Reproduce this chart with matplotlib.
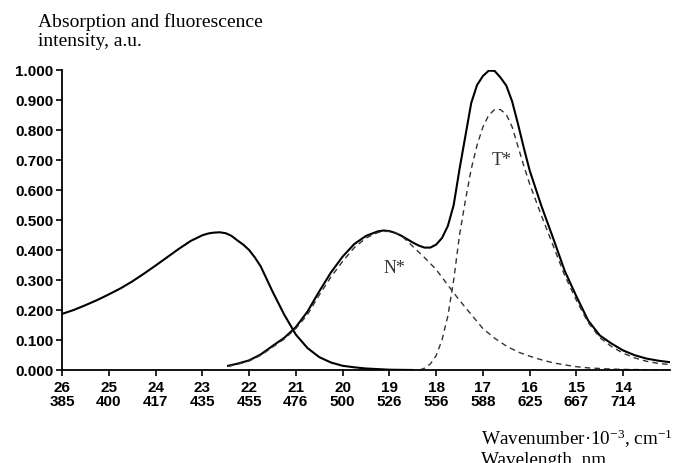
import matplotlib
matplotlib.use("Agg")
import matplotlib.pyplot as plt

plt.rcParams["mathtext.fontset"] = "custom"
plt.rcParams["mathtext.rm"] = "Liberation Serif"
plt.rcParams["mathtext.it"] = "Liberation Serif:italic"
plt.rcParams["mathtext.bf"] = "Liberation Serif:bold"

# ---- data ----
abs_x = [26.0, 25.75, 25.5, 25.25, 25.0, 24.75, 24.5, 24.25, 24.0, 23.75, 23.5, 23.25,
         23.0, 22.875, 22.75, 22.625, 22.5, 22.375, 22.25, 22.125, 22.0, 21.875, 21.75,
         21.5, 21.25, 21.0, 20.75, 20.5, 20.25, 20.0, 19.75, 19.5, 19.25, 19.0, 18.5]
abs_y = [0.187, 0.200, 0.216, 0.233, 0.252, 0.272, 0.295, 0.321, 0.348, 0.376, 0.404, 0.430,
         0.449, 0.455, 0.458, 0.459, 0.456, 0.447, 0.432, 0.418, 0.400, 0.375, 0.345,
         0.262, 0.185, 0.118, 0.073, 0.043, 0.025, 0.014, 0.009, 0.005, 0.003, 0.001, 0.0]

fl_x = [22.45, 22.25, 22.0, 21.75, 21.5, 21.25, 21.0, 20.75, 20.5, 20.25, 20.0, 19.75,
        19.5, 19.25, 19.125, 19.0, 18.875, 18.75, 18.5, 18.375, 18.25, 18.125, 18.0, 17.875,
        17.75, 17.625, 17.5, 17.375, 17.25, 17.125, 17.0, 16.875, 16.75, 16.625, 16.5,
        16.375, 16.25, 16.125, 16.0, 15.75, 15.5, 15.25, 15.0, 14.75, 14.5, 14.25, 14.0,
        13.75, 13.5, 13.25, 13.0]
fl_y = [0.014, 0.021, 0.032, 0.052, 0.080, 0.107, 0.143, 0.195, 0.262, 0.325, 0.378, 0.420,
        0.447, 0.462, 0.465, 0.463, 0.457, 0.448, 0.425, 0.415, 0.408, 0.408, 0.418, 0.440,
        0.480, 0.550, 0.670, 0.780, 0.890, 0.950, 0.980, 0.998, 0.997, 0.975, 0.948,
        0.895, 0.820, 0.740, 0.665, 0.547, 0.440, 0.330, 0.245, 0.165, 0.115, 0.088, 0.065,
        0.049, 0.038, 0.031, 0.026]

n_x = [22.45, 22.25, 22.0, 21.75, 21.5, 21.25, 21.0, 20.75, 20.5, 20.25, 20.0, 19.75,
       19.5, 19.25, 19.125, 19.0, 18.875, 18.75, 18.5, 18.25, 18.0, 17.75, 17.5, 17.25,
       17.0, 16.75, 16.5, 16.25, 16.0, 15.75, 15.5, 15.25, 15.0, 14.75, 14.5, 14.25, 14.0,
       13.5, 13.0]
n_y = [0.012, 0.019, 0.030, 0.049, 0.076, 0.103, 0.138, 0.185, 0.250, 0.310, 0.362, 0.408,
       0.440, 0.458, 0.462, 0.462, 0.457, 0.449, 0.412, 0.375, 0.335, 0.283, 0.232, 0.185,
       0.138, 0.106, 0.080, 0.060, 0.046, 0.034, 0.024, 0.017, 0.011, 0.007, 0.005, 0.003,
       0.002, 0.001, 0.0]

t_x = [18.35, 18.25, 18.125, 18.0, 17.875, 17.75, 17.625, 17.5, 17.375, 17.25, 17.125,
       17.0, 16.875, 16.75, 16.625, 16.5, 16.375, 16.25, 16.125, 16.0, 15.75, 15.5, 15.25,
       15.0, 14.75, 14.5, 14.25, 14.0, 13.75, 13.5, 13.25, 13.0]
t_y = [0.0, 0.006, 0.020, 0.048, 0.100, 0.180, 0.300, 0.450, 0.565, 0.670, 0.750,
       0.810, 0.850, 0.868, 0.868, 0.852, 0.810, 0.745, 0.680, 0.620, 0.515, 0.415, 0.315,
       0.232, 0.158, 0.108, 0.078, 0.056, 0.040, 0.029, 0.022, 0.018]

wn_ticks = [26, 25, 24, 23, 22, 21, 20, 19, 18, 17, 16, 15, 14]
wl_labels = ["385", "400", "417", "435", "455", "476", "500", "526", "556", "588", "625", "667", "714"]
y_ticks = [0.0, 0.1, 0.2, 0.3, 0.4, 0.5, 0.6, 0.7, 0.8, 0.9, 1.0]

# ---- figure ----
fig = plt.figure(figsize=(6.75, 4.64), dpi=100)
ax = fig.add_axes([62/675, 1 - 371/464, (670-62)/675, (371-71)/464])

ax.plot(abs_x, abs_y, color="black", lw=1.5)
ax.plot(fl_x, fl_y, color="black", lw=1.5)
ax.plot(n_x, n_y, color="#333333", lw=1.0, ls=(0, (4, 3)))
ax.plot(t_x, t_y, color="#333333", lw=1.0, ls=(0, (4, 3)))

ax.set_xlim(26, 13)
ax.set_ylim(0, 1.0)
for s in ("top", "right"):
    ax.spines[s].set_visible(False)
ax.spines["left"].set_linewidth(1.3)
ax.spines["bottom"].set_linewidth(1.3)

ax.set_yticks(y_ticks)
ax.set_yticklabels([f"{v:.3f}" for v in y_ticks], fontfamily="Liberation Sans",
                   fontweight="bold", fontsize=11)
ax.set_xticks(wn_ticks)
ax.set_xticklabels([f"{w}\n{l}" for w, l in zip(wn_ticks, wl_labels)],
                   fontfamily="Liberation Sans", fontweight="bold", fontsize=11,
                   linespacing=1.05)
ax.tick_params(axis="both", direction="out", length=4, width=1.2, color="black")
ax.tick_params(axis="x", pad=3)
ax.tick_params(axis="y", pad=2)

serif = "Liberation Serif"
fig.text(38/675, 1 - 13/464, "Absorption and fluorescence\nintensity, a.u.",
         fontfamily=serif, fontsize=14, ha="left", va="top", linespacing=1.2)
fig.text(481/675, 1 - 428/464, "Wavenumber·10$^{-3}$, cm$^{-1}$\nWavelength, nm",
         fontfamily=serif, fontsize=13.8, ha="left", va="top", linespacing=1.15)

ax.text(18.9, 0.34, "N*", fontfamily=serif, fontsize=13, color="#333333", ha="center", va="center")
ax.text(16.6, 0.70, "T*", fontfamily=serif, fontsize=13, color="#333333", ha="center", va="center")

fig.savefig("out.png", dpi=100)
